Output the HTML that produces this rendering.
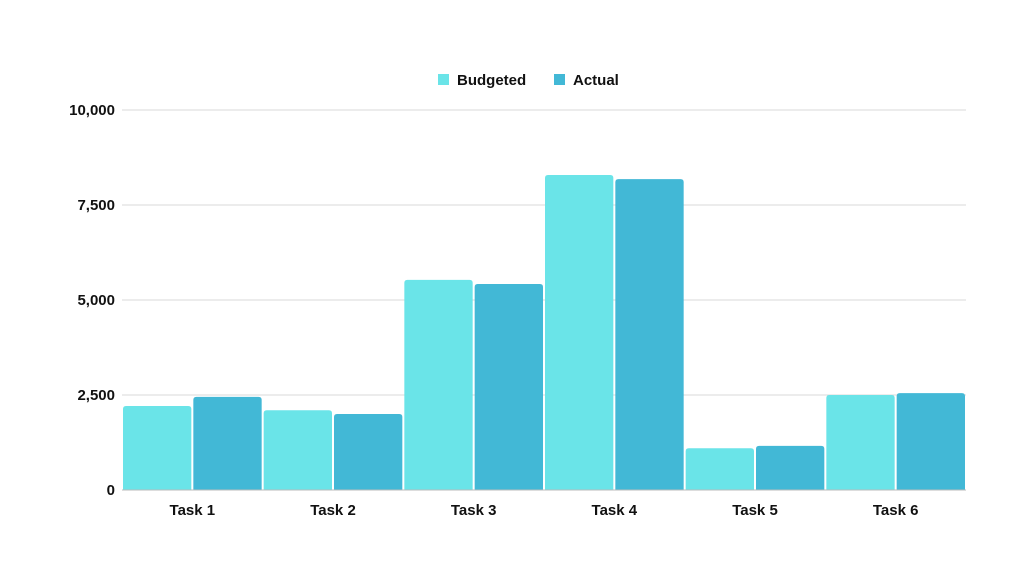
<!DOCTYPE html>
<html><head><meta charset="utf-8"><style>
body{margin:0;background:#fff;width:1024px;height:576px;overflow:hidden}
svg{font-family:"Liberation Sans",sans-serif;font-weight:bold}
</style></head><body>
<svg id="c" width="1024" height="576">
<g>
<rect x="438" y="74" width="11" height="11" fill="#6ae4e8"/>
<text x="457" y="85" font-size="15" fill="#111">Budgeted</text>
<rect x="554" y="74" width="11" height="11" fill="#42b8d6"/>
<text x="573" y="85" font-size="15" fill="#111">Actual</text>
</g>
</svg>
<script>
const categories=["Task 1","Task 2","Task 3","Task 4","Task 5","Task 6"];
const budgeted=[2210,2100,5530,8290,1100,2500];
const actual=[2450,2000,5420,8180,1160,2550];
const yTicks=[0,2500,5000,7500,10000];
const yTickLabels=["0","2,500","5,000","7,500","10,000"];
const svg=document.getElementById('c');const NS="http://www.w3.org/2000/svg";
const x0=122,x1=966,yb=490,yt=110,ymax=10000;
const y=v=>yb-(v/ymax)*(yb-yt);
const gw=(x1-x0)/categories.length;
function mk(t,a){const e=document.createElementNS(NS,t);for(const k in a)e.setAttribute(k,a[k]);svg.appendChild(e);return e;}
yTicks.forEach((t,i)=>{
 if(t>0){const l=mk('line',{x1:x0,x2:x1,y1:y(t),y2:y(t),stroke:'#d9d9d9','stroke-width':1});
 
 }
 const tx=mk('text',{x:115,y:y(t)+5,'text-anchor':'end','font-size':15,fill:'#111'});tx.textContent=yTickLabels[i];
 
 
});
function bar(xl,w,v,col){const h=yb-y(v),r=3;
 const p=mk('path',{d:`M${xl},${yb}V${y(v)+r}Q${xl},${y(v)} ${xl+r},${y(v)}H${xl+w-r}Q${xl+w},${y(v)} ${xl+w},${y(v)+r}V${yb}Z`,fill:col});return p;}
categories.forEach((c,i)=>{
 const gx=x0+i*gw,bw=(gw-4)/2;
 const b=bar(gx+1,bw,budgeted[i],'#6ae4e8');
 
 
 const a=bar(gx+3+bw,bw,actual[i],'#42b8d6');
 
 
 const t=mk('text',{x:gx+gw/2,y:515,'text-anchor':'middle','font-size':15,fill:'#111'});t.textContent=c;
 
 
});
const ax=mk('line',{x1:x0,x2:x1,y1:yb,y2:yb,stroke:'#bbb','stroke-width':1});


</script>
</body></html>
